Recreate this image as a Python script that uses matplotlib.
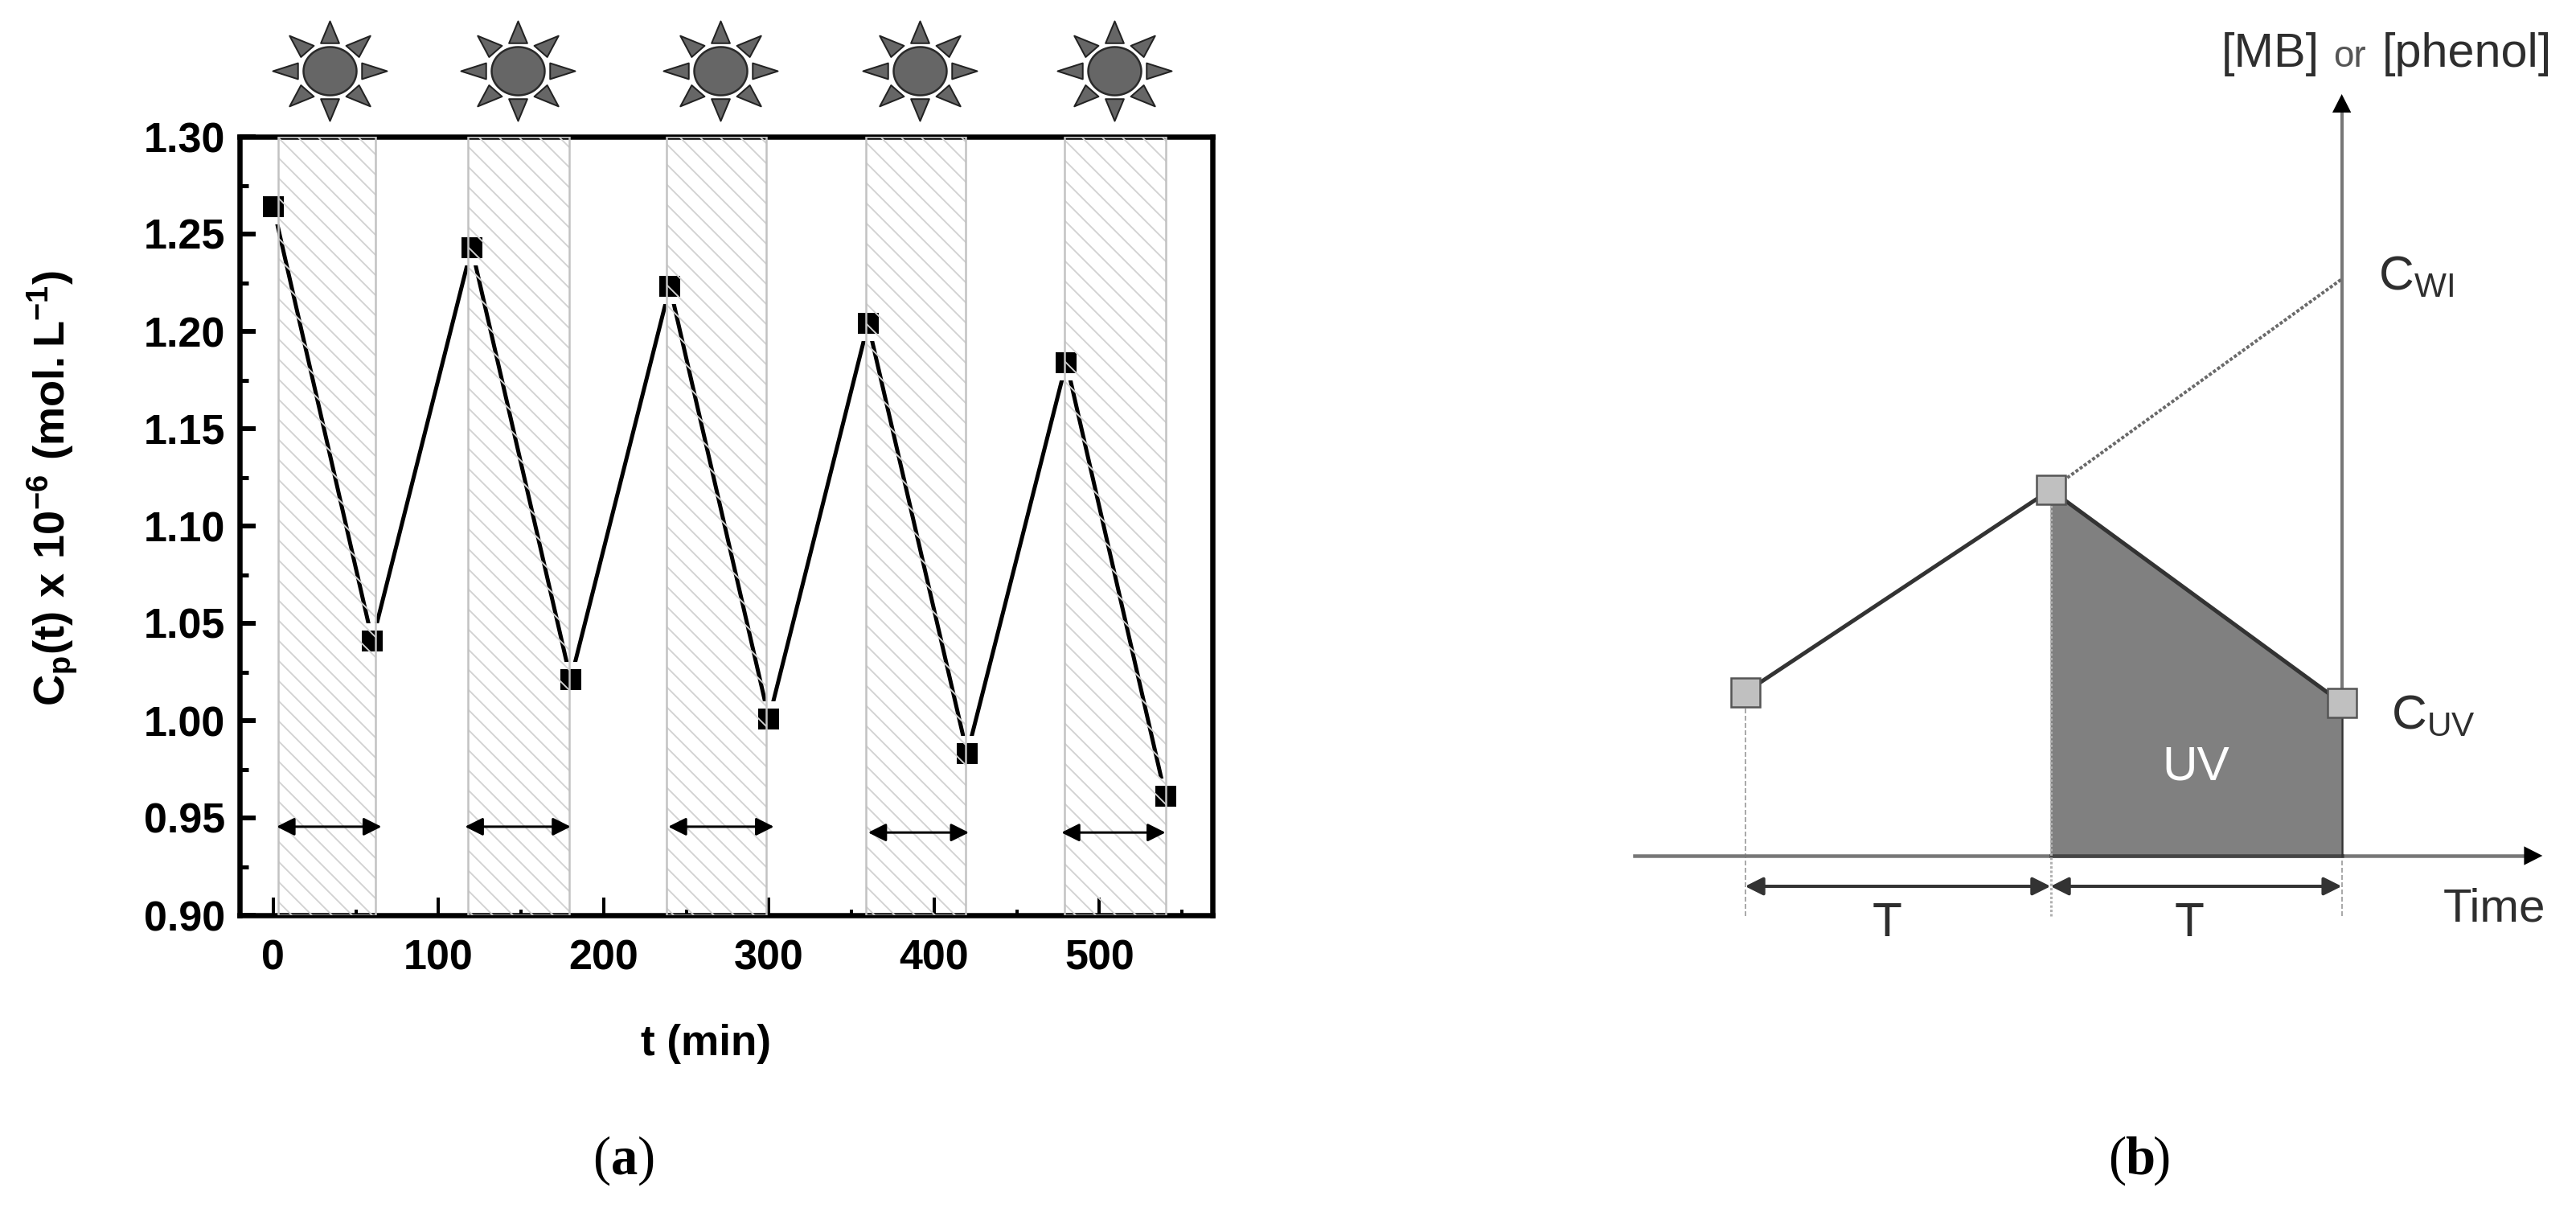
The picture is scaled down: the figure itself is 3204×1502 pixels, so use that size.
"""Recreate the two panel figure: photocatalysis cycles (a) and the schematic (b)."""
import numpy as np
import matplotlib
matplotlib.use('Agg')
import matplotlib.pyplot as plt
from matplotlib.path import Path

W, H = 3204, 1502
DPI = 150

# panel (a)
time_min = [0, 60, 120, 180, 240, 300, 360, 420, 480, 540]
conc = [1.264, 1.041, 1.243, 1.021, 1.223, 1.001, 1.204, 0.983, 1.184, 0.961]
band_start = [3, 118, 238, 358.5, 479]
band_end = [62, 179, 298.5, 419, 540]
arrow_start = [2, 116, 239, 360, 477]
arrow_end = [65.5, 180, 303, 421, 540]
arrow_y = [0.9455, 0.9455, 0.9455, 0.9425, 0.9425]
sun_t = [34, 148, 270.5, 391.5, 509]
sun_y = 1.334
x_ticks = [0, 100, 200, 300, 400, 500]
y_ticks = [0.90, 0.95, 1.00, 1.05, 1.10, 1.15, 1.20, 1.25, 1.30]

# panel (b), time in units of T, concentration in arbitrary units
sch_time = [0, 1, 1.953]
sch_conc = [2.03, 4.55, 1.90]
c_wi = 7.17

plt.rcParams['font.family'] = ['Liberation Sans', 'DejaVu Sans']
plt.rcParams['mathtext.fontset'] = 'custom'
plt.rcParams['mathtext.rm'] = 'Liberation Sans'
plt.rcParams['mathtext.bf'] = 'Liberation Sans:bold'
plt.rcParams['hatch.linewidth'] = 0.9


def px(n):
    """Convert pixels in the output picture to points."""
    return n * 72 / DPI


def box(left, top, right, bottom):
    """Axes rectangle from pixel edges."""
    return [left / W, 1 - bottom / H, (right - left) / W, (bottom - top) / H]


def sun_rays():
    """Eight triangles around the origin, as one marker path."""
    verts, codes = [], []
    for a in np.deg2rad(np.arange(0, 360, 45)):
        rot = np.array([[np.cos(a), -np.sin(a)], [np.sin(a), np.cos(a)]])
        tri = np.array([[1, 0], [0.56, 0.16], [0.56, -0.16], [1, 0]]) @ rot.T
        tri[:, 1] *= 0.873
        verts.extend(tri.tolist())
        codes.extend([Path.MOVETO, Path.LINETO, Path.LINETO, Path.CLOSEPOLY])
    return Path(verts, codes)


def sun_body():
    """Slightly flattened disc marker."""
    a = np.linspace(0, 2 * np.pi, 73)
    return Path(np.column_stack([np.cos(a), 0.91 * np.sin(a)]), closed=True)


def plot_cycles(ax):
    ax.plot(time_min, conc, color='black', lw=px(5), zorder=2)
    ax.plot(time_min, conc, 's', color='white', ms=px(44), mew=0, zorder=2.1)
    ax.plot(time_min, conc, 's', color='black', ms=px(26), mew=0, zorder=2.2)

    for lo, hi in zip(band_start, band_end):
        ax.axvspan(lo, hi, facecolor='none', edgecolor='#d2d2d2', hatch='\\\\',
                   lw=0, zorder=3)
        ax.axvspan(lo, hi, facecolor='none', edgecolor='#c2c2c2', lw=px(2.5), zorder=3.1)

    for lo, hi, y in zip(arrow_start, arrow_end, arrow_y):
        ax.annotate('', xy=(hi, y), xytext=(lo, y), zorder=4,
                    arrowprops=dict(arrowstyle='<|-|>,head_length=0.5,head_width=0.25',
                                    color='black', lw=px(3), shrinkA=0, shrinkB=0,
                                    mutation_scale=18))

    ax.plot(sun_t, [sun_y] * len(sun_t), ls='none', marker=sun_rays(), ms=px(142),
            mfc='#666666', mec='#222222', mew=px(2), clip_on=False, zorder=5)
    ax.plot(sun_t, [sun_y] * len(sun_t), ls='none', marker=sun_body(), ms=px(66),
            mfc='#666666', mec='#2a2a2a', mew=px(2.5), clip_on=False, zorder=5)

    ax.set_xlim(-20.4, 568.4)
    ax.set_ylim(0.90, 1.30)
    ax.set_xticks(x_ticks)
    ax.set_yticks(y_ticks)
    ax.set_yticklabels([f'{v:.2f}' for v in y_ticks])
    ax.set_xticks([50, 150, 250, 350, 450, 550], minor=True)
    ax.set_yticks(np.array(y_ticks[:-1]) + 0.025, minor=True)
    ax.tick_params(axis='x', which='major', direction='in', length=px(22), width=px(4),
                   labelsize=25, pad=px(30))
    ax.tick_params(axis='y', which='major', direction='in', length=px(20), width=px(6),
                   labelsize=25, pad=px(18))
    ax.tick_params(axis='x', which='minor', direction='in', length=px(7), width=px(4))
    ax.tick_params(axis='y', which='minor', direction='in', length=px(11), width=px(5))
    for label in ax.get_xticklabels() + ax.get_yticklabels():
        label.set_fontweight('bold')
    for spine in ax.spines.values():
        spine.set_linewidth(px(6.5))


def plot_schematic(ax):
    t0, t1, t2 = sch_time
    c0, c1, c2 = sch_conc
    dim_y = -0.38
    foot_y = -0.75

    ax.fill([t1, t2, t2, t1], [c1, c2, 0, 0], color='#808080', lw=0, zorder=1)
    ax.plot([-0.363, 2.587], [0, 0], color='#777777', lw=px(4.5), zorder=1.2)
    ax.plot([t1, t2], [0, 0], color='#454545', lw=px(4.5), zorder=1.3)
    ax.annotate('', xy=(2.61, 0), xytext=(2.5, 0), zorder=1.4,
                arrowprops=dict(arrowstyle='-|>,head_length=0.55,head_width=0.28',
                                color='black', lw=0, shrinkA=0, shrinkB=0, mutation_scale=20))
    ax.plot([t2, t2], [c2, 9.3], color='#777777', lw=px(4), zorder=1.2)
    ax.plot([t2, t2], [0, c2], color='#333333', lw=px(2.5), zorder=1.3)
    ax.annotate('', xy=(t2, 9.47), xytext=(t2, 9.2), zorder=1.4,
                arrowprops=dict(arrowstyle='-|>,head_length=0.55,head_width=0.28',
                                color='black', lw=0, shrinkA=0, shrinkB=0, mutation_scale=20))

    ax.plot([t0, t1], [c0, c1], color='#333333', lw=px(5), zorder=2)
    ax.plot([t1, t2], [c1, c2], color='#333333', lw=px(5), zorder=2)
    ax.plot([t1, t2], [c1, c_wi], color='#6a6a6a', lw=px(4), ls=(0, (1, 0.6)), zorder=2)

    ax.plot([t0, t0], [foot_y, c0], color='#aaaaaa', lw=px(2), ls=(0, (3, 1.5)), zorder=1.1)
    ax.plot([t1, t1], [foot_y, c1], color='#b0b0b0', lw=px(3), ls=(0, (1, 0.8)), zorder=1.5)
    ax.plot([t2, t2], [foot_y, 0], color='#aaaaaa', lw=px(2), ls=(0, (3, 1.5)), zorder=1.1)

    for lo, hi in [(t0, t1), (t1, t2)]:
        ax.annotate('', xy=(hi, dim_y), xytext=(lo, dim_y), zorder=2,
                    arrowprops=dict(arrowstyle='<|-|>,head_length=0.5,head_width=0.25',
                                    color='#333333', lw=px(4), shrinkA=0, shrinkB=0,
                                    mutation_scale=18))

    ax.plot(sch_time, sch_conc, 's', ms=px(36), mfc='#c0c0c0', mec='#555555',
            mew=px(2.5), zorder=3)

    ink = '#2e2e2e'
    ax.text(1.559, 9.81, '[MB]', fontsize=28.5, color=ink, va='baseline')
    ax.text(1.925, 9.81, 'or', fontsize=22, color='#555555', va='baseline')
    ax.text(2.085, 9.81, '[phenol]', fontsize=28.5, color=ink, va='baseline')
    ax.text(2.072, 7.03, r'$\mathregular{C_{WI}}$', fontsize=29, color=ink, va='baseline')
    ax.text(2.115, 1.58, r'$\mathregular{C_{UV}}$', fontsize=29, color=ink, va='baseline')
    ax.text(1.475, 1.10, 'UV', fontsize=29, color='white', ha='center', va='center')
    ax.text(0.4645, -0.85, 'T', fontsize=29, color=ink, ha='center', va='center')
    ax.text(1.454, -0.85, 'T', fontsize=29, color=ink, ha='center', va='center')
    ax.text(2.285, -0.66, 'Time', fontsize=28, color=ink, va='center')
    ax.axis('off')


def add_caption(fig, letter, center):
    """Caption with upright brackets and a bold letter, as in the journal layout."""
    base = 1 - 1460 / H
    fig.text((center - 40) / W, base, '(', family='Liberation Serif', fontsize=32)
    fig.text(center / W, base, letter, family='Liberation Serif', fontsize=32,
             fontweight='bold', ha='center')
    fig.text((center + 38) / W, base, ')', family='Liberation Serif', fontsize=32, ha='right')


def main():
    fig = plt.figure(figsize=(W / DPI, H / DPI), dpi=DPI)

    ax_a = fig.add_axes(box(298, 170, 1508, 1138))
    plot_cycles(ax_a)
    fig.text(66 / W, 1 - 607 / H,
             r'$\mathbf{C_p(t)\ x\ 10^{-6}\ (mol{.}L^{-1})}$',
             rotation=90, fontsize=26, ha='center', va='center')
    fig.text(878 / W, 1 - 1298 / H, 't (min)', fontsize=25.5, fontweight='bold',
             ha='center', va='center')

    # one T is 380 px and one concentration unit is 100 px in this axes
    ax_b = fig.add_axes(box(2000, 0, 3204, 1300))
    ax_b.set_xlim((2000 - 2170.5) / 380, (3204 - 2170.5) / 380)
    ax_b.set_ylim((1064 - 1300) / 100, 1064 / 100)
    plot_schematic(ax_b)

    add_caption(fig, 'a', 777)
    add_caption(fig, 'b', 2662)

    fig.savefig('out.png', dpi=DPI)
    plt.close(fig)


if __name__ == '__main__':
    main()
